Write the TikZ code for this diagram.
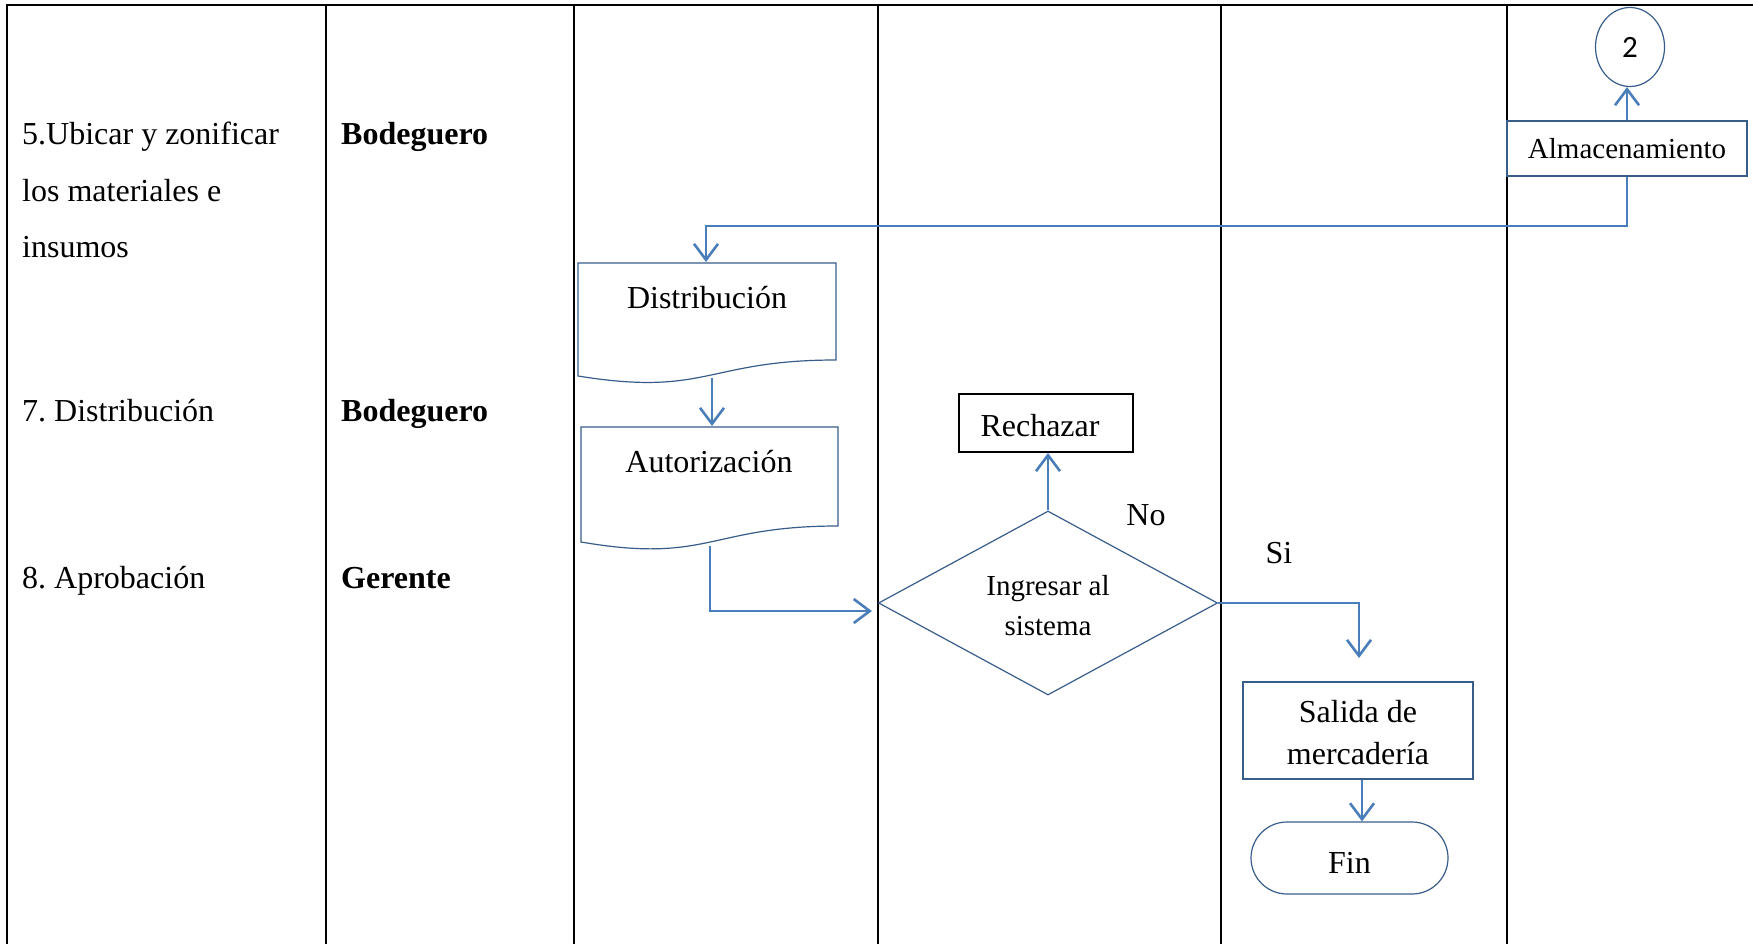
\documentclass[tikz,border=0pt]{standalone}
\usepackage{fontspec}
\setmainfont{Liberation Serif}
\newfontfamily\calib{Carlito}
\usetikzlibrary{arrows.meta,shapes.geometric,calc}
\definecolor{connc}{HTML}{4A7EBB}
\definecolor{shpc}{HTML}{385D8A}
\begin{document}
\frenchspacing
\begin{tikzpicture}[x=1pt,y=-1pt,
  gridline/.style={line width=2pt,black},
  bigtxt/.style={font=\fontsize{32}{40}\selectfont,inner sep=0pt},
  lbl/.style={font=\fontsize{32}{40}\selectfont,inner sep=0pt},
  shp/.style={draw=shpc,line width=1.2pt},
  conn/.style={draw=connc,line width=2.6pt},
  arr/.style={conn,-{Straight Barb[length=16pt,width=24pt,line width=2.6pt]}},
  procbox/.style={shp,rectangle,inner sep=0pt,align=center,font=\fontsize{32}{42}\selectfont},
]
\useasboundingbox (0,0) rectangle (1753,944);
\fill[white] (0,0) rectangle (1753,944);

% table lines
\draw[gridline] (7,944) -- (7,5) -- (1753,5);
\foreach \x in {326,574,878,1221,1507} \draw[gridline] (\x,5) -- (\x,944);

% left column texts
\node[bigtxt,anchor=base west] (t5a) at (22,145) {5.Ubicar y zonificar};
\node[bigtxt,anchor=base west] (t5b) at (22,201) {los materiales e};
\node[bigtxt,anchor=base west] (t5c) at (22,257) {insumos};
\node[bigtxt,anchor=base west] (t7) at (22,421) {7. Distribución};
\node[bigtxt,anchor=base west] (t8) at (22,588) {8. Aprobación};
\node[bigtxt,anchor=base west,font=\fontsize{32}{40}\selectfont\bfseries] (r1) at (341,145) {Bodeguero};
\node[bigtxt,anchor=base west,font=\fontsize{32}{40}\selectfont\bfseries] (r2) at (341,421) {Bodeguero};
\node[bigtxt,anchor=base west,font=\fontsize{32}{40}\selectfont\bfseries] (r3) at (341,588) {Gerente};

% connector circle 2
\node[shp,ellipse,minimum width=69pt,minimum height=79pt,inner sep=0pt,font=\calib\fontsize{31}{36}\selectfont] (c2) at (1630,47) {2};
% Almacenamiento
\node[procbox,minimum width=240pt,minimum height=55pt,font=\fontsize{29}{34}\selectfont] (alm) at (1627,148.5) {Almacenamiento};

% Distribucion document
\node[lbl] (dist) at (707,298) {Distribución};
\draw[shp] ($(dist)+(-129,-35)$) -- ($(dist)+(129,-35)$) -- ($(dist)+(129,62)$)
  .. controls ($(dist)+(0,62)$) and ($(dist)+(0,99)$) .. ($(dist)+(-129,78)$) -- cycle;

% Autorizacion document
\node[lbl] (aut) at (709,462) {Autorización};
\draw[shp] ($(aut)+(-128,-35)$) -- ($(aut)+(129,-35)$) -- ($(aut)+(129,64)$)
  .. controls ($(aut)+(0,64)$) and ($(aut)+(0,102)$) .. ($(aut)+(-128,80)$) -- cycle;

% decision
\node[shp,diamond,aspect=1.84,minimum width=339pt,minimum height=184pt,inner sep=0pt] (dia) at (1048,603) {};
\node[align=center,inner sep=0pt,font=\fontsize{29}{40}\selectfont] (diat) at (1048,605.5) {Ingresar al\\sistema};

% Rechazar
\node[draw=black,line width=2pt,minimum width=174pt,minimum height=58pt,inner sep=0pt,text height=26pt,text depth=0pt,font=\fontsize{32}{40}\selectfont] (rech) at (1046,423) {Rechazar\kern12pt};

% labels
\node[lbl] (no) at (1146,515) {No};
\node[lbl] (si) at (1279,553) {Si};

% Salida
\node[shp,rectangle,inner sep=0pt,minimum width=230pt,minimum height=97pt] (sal) at (1358,730.5) {};
\node[align=center,inner sep=0pt,font=\fontsize{32}{42}\selectfont] (salt) at (1358,732.7) {Salida de\\mercadería};

% Fin
\node[shp,rectangle,rounded corners=36pt,minimum width=197pt,minimum height=72pt,inner sep=0pt,text height=30pt,text depth=0pt,font=\fontsize{32}{40}\selectfont] (fin) at (1349.5,858) {Fin};

% connectors
\coordinate (k1) at (706,226);
\draw[arr] (alm.south) |- (k1) -- ($(dist)+(-1,-36)$);
\draw[arr] (alm.north) -- (alm.north |- c2.south);
\draw[arr] ($(dist)+(5,80)$) -- ($(aut)+(3,-36)$);
\draw[arr] ($(aut)+(1,84)$) |- ($(dia.west)+(-6,8)$);
\draw[arr] (dia.north) -- (dia.north |- rech.south);
\coordinate (k2) at (1359,658);
\draw[arr] (dia.east) -| (k2);
\draw[arr] ($(sal.south)+(4,0)$) -- ($(fin.north)+(12.5,0)$);
\end{tikzpicture}
\end{document}
